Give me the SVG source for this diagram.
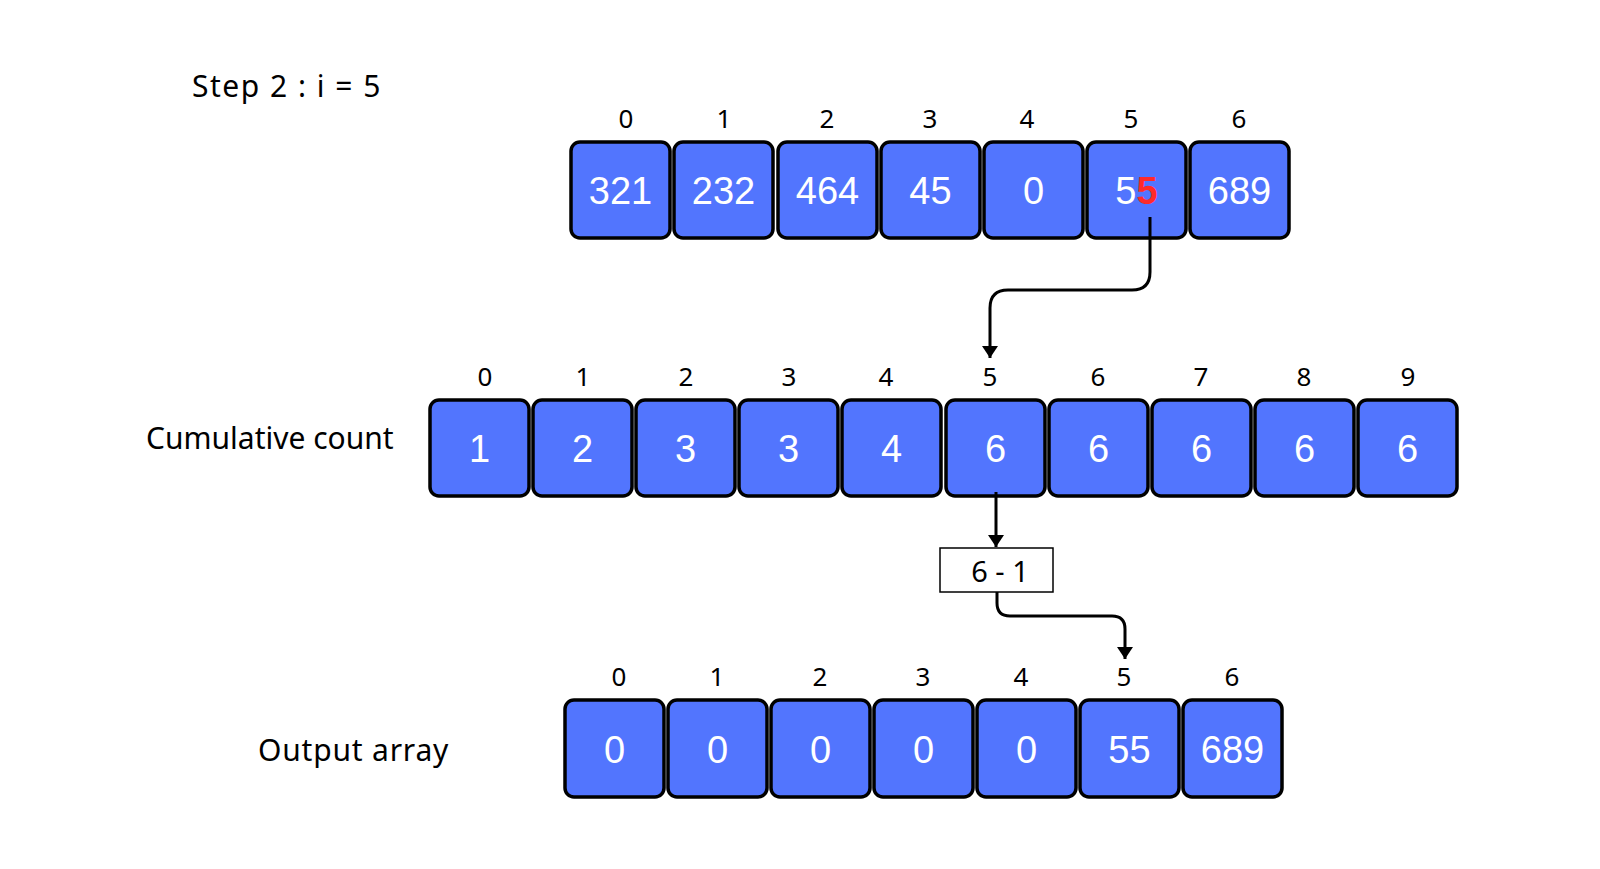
<svg xmlns="http://www.w3.org/2000/svg" width="1600" height="869" viewBox="0 0 1600 869">
<style>
.cell{fill:#5275fe;stroke:#000;stroke-width:3.5}
.val{font-family:"Liberation Sans",Arial,sans-serif;font-size:38px;fill:#fff;text-anchor:middle}
.idx{font-family:"Noto Sans","DejaVu Sans",sans-serif;font-size:26px;fill:#000;text-anchor:middle}
.lbl{font-family:"Noto Sans","DejaVu Sans",sans-serif;font-size:30px;fill:#000}
.conn{fill:none;stroke:#000;stroke-width:3}
</style>
<defs>
<marker id="arr" viewBox="0 0 12 16" refX="12" refY="8" markerWidth="12" markerHeight="16" markerUnits="userSpaceOnUse" orient="auto">
<path d="M0,0 L12,8 L0,16 Z" fill="#000"/>
</marker>
</defs>
<rect width="1600" height="869" fill="#fff"/>
<text class="lbl" x="192" y="97" letter-spacing="1.5">Step 2 : i = 5</text>
<text class="lbl" x="146" y="449">Cumulative count</text>
<text class="lbl" x="258" y="761" letter-spacing="0.8">Output array</text>

<g id="input">
<text class="idx" x="626" y="128">0</text><text class="idx" x="724" y="128">1</text><text class="idx" x="827" y="128">2</text><text class="idx" x="930" y="128">3</text><text class="idx" x="1027" y="128">4</text><text class="idx" x="1131" y="128">5</text><text class="idx" x="1239" y="128">6</text>
<g id="in0"><rect class="cell" x="571" y="142" width="99" height="96" rx="9"/><text class="val" x="620.5" y="204">321</text></g>
<g id="in1"><rect class="cell" x="674" y="142" width="99" height="96" rx="9"/><text class="val" x="723.5" y="204">232</text></g>
<g id="in2"><rect class="cell" x="778" y="142" width="99" height="96" rx="9"/><text class="val" x="827.5" y="204">464</text></g>
<g id="in3"><rect class="cell" x="881" y="142" width="99" height="96" rx="9"/><text class="val" x="930.5" y="204">45</text></g>
<g id="in4"><rect class="cell" x="984" y="142" width="99" height="96" rx="9"/><text class="val" x="1033.5" y="204">0</text></g>
<g id="in5"><rect class="cell" x="1087" y="142" width="99" height="96" rx="9"/><text class="val" x="1136.5" y="204">5<tspan fill="#ff2a2a" font-weight="bold">5</tspan></text></g>
<g id="in6"><rect class="cell" x="1190" y="142" width="99" height="96" rx="9"/><text class="val" x="1239.5" y="204">689</text></g>
</g>

<g id="count">
<text class="idx" x="485" y="386">0</text><text class="idx" x="583" y="386">1</text><text class="idx" x="686" y="386">2</text><text class="idx" x="789" y="386">3</text><text class="idx" x="886" y="386">4</text><text class="idx" x="990" y="386">5</text><text class="idx" x="1098" y="386">6</text><text class="idx" x="1201" y="386">7</text><text class="idx" x="1304" y="386">8</text><text class="idx" x="1408" y="386">9</text>
<g id="c0"><rect class="cell" x="430" y="400" width="99" height="96" rx="9"/><text class="val" x="479.5" y="462">1</text></g>
<g id="c1"><rect class="cell" x="533" y="400" width="99" height="96" rx="9"/><text class="val" x="582.5" y="462">2</text></g>
<g id="c2"><rect class="cell" x="636" y="400" width="99" height="96" rx="9"/><text class="val" x="685.5" y="462">3</text></g>
<g id="c3"><rect class="cell" x="739" y="400" width="99" height="96" rx="9"/><text class="val" x="788.5" y="462">3</text></g>
<g id="c4"><rect class="cell" x="842" y="400" width="99" height="96" rx="9"/><text class="val" x="891.5" y="462">4</text></g>
<g id="c5"><rect class="cell" x="946" y="400" width="99" height="96" rx="9"/><text class="val" x="995.5" y="462">6</text></g>
<g id="c6"><rect class="cell" x="1049" y="400" width="99" height="96" rx="9"/><text class="val" x="1098.5" y="462">6</text></g>
<g id="c7"><rect class="cell" x="1152" y="400" width="99" height="96" rx="9"/><text class="val" x="1201.5" y="462">6</text></g>
<g id="c8"><rect class="cell" x="1255" y="400" width="99" height="96" rx="9"/><text class="val" x="1304.5" y="462">6</text></g>
<g id="c9"><rect class="cell" x="1358" y="400" width="99" height="96" rx="9"/><text class="val" x="1407.5" y="462">6</text></g>
</g>

<g id="calc">
<rect x="940" y="548" width="113" height="44" fill="#fff" stroke="#000" stroke-width="1.5"/>
<text class="idx" x="1000" y="582" style="font-size:29px">6 - 1</text>
</g>

<g id="output">
<text class="idx" x="619" y="686">0</text><text class="idx" x="717" y="686">1</text><text class="idx" x="820" y="686">2</text><text class="idx" x="923" y="686">3</text><text class="idx" x="1021" y="686">4</text><text class="idx" x="1124" y="686">5</text><text class="idx" x="1232" y="686">6</text>
<g id="o0"><rect class="cell" x="565" y="700" width="99" height="97" rx="9"/><text class="val" x="614.5" y="763">0</text></g>
<g id="o1"><rect class="cell" x="668" y="700" width="99" height="97" rx="9"/><text class="val" x="717.5" y="763">0</text></g>
<g id="o2"><rect class="cell" x="771" y="700" width="99" height="97" rx="9"/><text class="val" x="820.5" y="763">0</text></g>
<g id="o3"><rect class="cell" x="874" y="700" width="99" height="97" rx="9"/><text class="val" x="923.5" y="763">0</text></g>
<g id="o4"><rect class="cell" x="977" y="700" width="99" height="97" rx="9"/><text class="val" x="1026.5" y="763">0</text></g>
<g id="o5"><rect class="cell" x="1080" y="700" width="99" height="97" rx="9"/><text class="val" x="1129.5" y="763">55</text></g>
<g id="o6"><rect class="cell" x="1183" y="700" width="99" height="97" rx="9"/><text class="val" x="1232.5" y="763">689</text></g>
</g>

<g id="connectors">
<path class="conn" d="M1150,217 V272 Q1150,290 1132,290 H1008 Q990,290 990,308 V358" marker-end="url(#arr)"/>
<path class="conn" d="M996,492 V547" marker-end="url(#arr)"/>
<path class="conn" d="M997,592 V603 Q997,616 1010,616 H1112 Q1125,616 1125,629 V659" marker-end="url(#arr)"/>
</g>
</svg>
